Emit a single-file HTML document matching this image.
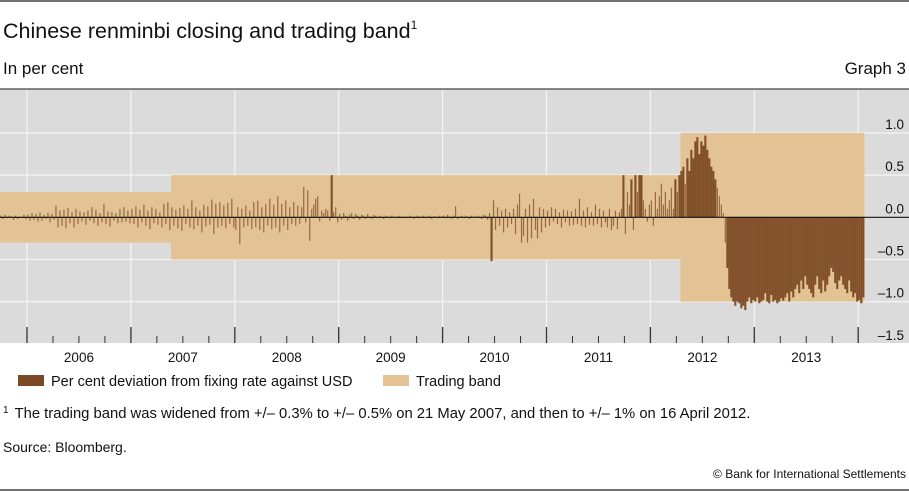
<!DOCTYPE html>
<html><head><meta charset="utf-8">
<style>
html,body{margin:0;padding:0;background:#fff;}
svg{display:block;}
</style></head>
<body>
<svg id="chart" width="909" height="492" xmlns="http://www.w3.org/2000/svg" font-family="'Liberation Sans', sans-serif">
  <line x1="0" y1="1" x2="909" y2="1" stroke="#444" stroke-width="1.5"/>
  <text x="3" y="38" font-size="21.5" fill="#111">Chinese renminbi closing and trading band<tspan font-size="12" dy="-9">1</tspan></text>
  <text x="3" y="74" font-size="17" fill="#111">In per cent</text>
  <text x="906" y="74" font-size="17" fill="#111" text-anchor="end">Graph 3</text>
  <rect x="0" y="89" width="909" height="254" fill="#dbdbdb"/>
  <line x1="0" y1="89" x2="909" y2="89" stroke="#444" stroke-width="1.2"/>
  <g id="grid"></g>
  <g id="bands"></g>
  <g id="bars"></g>
  <g id="axes"></g>
  <rect x="18" y="375" width="26" height="11" fill="#7b4a24"/>
  <text x="51" y="386" font-size="14.5" fill="#111">Per cent deviation from fixing rate against USD</text>
  <rect x="383" y="375" width="26" height="11" fill="#e3c294"/>
  <text x="416" y="386" font-size="14.5" fill="#111">Trading band</text>
  <text x="3" y="418" font-size="14.8" fill="#111"><tspan font-size="10" dy="-5">1</tspan><tspan dy="5" dx="6">The trading band was widened from +/– 0.3% to +/– 0.5% on 21 May 2007, and then to +/– 1% on 16 April 2012.</tspan></text>
  <text x="3" y="452" font-size="14" fill="#111">Source: Bloomberg.</text>
  <text x="906" y="478" font-size="12" fill="#111" text-anchor="end">© Bank for International Settlements</text>
  <line x1="0" y1="490" x2="909" y2="490" stroke="#444" stroke-width="1.5"/>
</svg>
<script>
const yTicks = [1.0, 0.5, 0.0, -0.5, -1.0, -1.5];
const yTickLabels = ["1.0", "0.5", "0.0", "–0.5", "–1.0", "–1.5"];
const years = [2006, 2007, 2008, 2009, 2010, 2011, 2012, 2013];
const bandStart = [2005.74, 2007.386, 2012.29];
const bandEnd = [2007.386, 2012.29, 2014.06];
const bandHalfWidth = [0.3, 0.5, 1.0];
const seriesStart = [2005.74, 2006, 2007, 2008, 2009, 2010, 2011, 2012, 2013, 2014];
const seriesEnd = [2006, 2007, 2008, 2009, 2010, 2011, 2012, 2013, 2014, 2014.06];
const v2005 = [0.02,-0.02,0.03,-0.01,0.02,0.01,-0.03,0.02,-0.02,0.01,-0.01,0.03,-0.02];
const v2006 = [0.03,-0.04,0.05,-0.03,0.04,-0.05,0.06,-0.04,0.03,-0.02,0.05,-0.06,0.04,-0.03,0.14,-0.12,0.08,-0.10,0.09,-0.13,0.11,-0.07,0.06,-0.12,0.10,-0.08,0.07,-0.05,0.06,-0.09,0.08,-0.04,0.12,-0.07,0.09,-0.10,0.05,-0.06,0.16,-0.08,0.07,-0.11,0.06,-0.04,0.05,-0.07,0.10,-0.06,0.12,-0.05,0.08,-0.07];
const v2007 = [0.10,-0.08,0.13,-0.12,0.09,-0.06,0.15,-0.10,0.08,-0.14,0.12,-0.07,0.10,-0.09,0.06,-0.12,0.16,-0.08,0.18,-0.15,0.12,-0.10,0.09,-0.13,0.11,-0.16,0.14,-0.08,0.10,-0.12,0.20,-0.14,0.12,-0.10,0.08,-0.18,0.15,-0.11,0.13,-0.09,0.21,-0.20,0.16,-0.12,0.18,-0.10,0.14,-0.13,0.17,-0.08,0.22,-0.12];
const v2008 = [-0.15,0.12,-0.32,0.10,-0.12,0.14,-0.10,0.08,-0.14,0.18,-0.12,0.20,-0.15,0.12,-0.18,0.16,-0.10,0.22,-0.14,0.15,-0.12,0.25,-0.18,0.16,-0.10,0.20,-0.15,0.12,-0.08,0.18,-0.10,0.14,-0.08,0.12,0.36,-0.06,0.32,-0.28,0.10,0.15,0.22,0.25,-0.05,0.08,0.05,0.10,0.08,-0.04,0.50,0.06,0.12,-0.06];
const v2009 = [0.04,-0.03,0.05,0.02,-0.04,0.03,0.05,-0.02,0.04,0.02,-0.03,0.03,0.02,-0.02,0.04,0.01,-0.02,0.03,0.02,-0.01,0.02,0.01,-0.02,0.02,0.01,-0.01,0.02,0.01,-0.01,0.01,0.02,-0.01,0.01,0.01,-0.01,0.02,0.01,-0.02,0.01,0.02,-0.01,0.01,0.02,-0.01,0.01,0.02,-0.02,0.01,0.01,-0.01,0.02,0.01];
const v2010 = [0.02,-0.01,0.03,0.01,-0.02,0.02,0.13,-0.02,0.01,0.02,-0.01,0.02,0.01,-0.02,0.02,0.01,-0.01,0.02,0.01,-0.02,0.03,0.02,-0.03,0.05,-0.52,0.20,-0.15,0.12,-0.10,0.08,-0.18,0.10,-0.12,0.06,-0.08,0.10,-0.20,0.15,0.28,-0.30,-0.22,0.10,-0.30,0.15,-0.25,0.22,-0.15,-0.25,0.12,-0.18,0.10,-0.12];
const v2011 = [0.08,-0.10,0.12,-0.05,0.10,-0.08,0.06,-0.12,0.09,-0.06,0.08,-0.10,0.07,-0.09,0.10,-0.08,0.22,-0.10,0.08,-0.12,0.12,-0.09,0.06,-0.10,0.15,-0.08,0.10,-0.12,0.08,-0.06,-0.12,0.10,-0.15,-0.10,0.08,-0.14,0.06,0.10,0.50,-0.20,0.30,0.15,0.45,-0.15,0.50,0.30,0.50,0.50,0.20,0.10,-0.05,0.15];
const v2012 = [0.20,-0.10,0.30,0.10,0.25,0.40,0.15,0.30,0.10,0.20,0.35,0.10,0.45,0.30,0.50,0.55,0.60,0.40,0.70,0.55,0.80,0.70,0.90,0.95,0.75,0.90,0.85,0.97,0.80,0.70,0.60,0.55,0.45,0.35,0.25,0.15,0.05,-0.30,-0.60,-0.85,-0.95,-1.00,-1.05,-1.00,-1.02,-1.08,-1.05,-1.10,-1.00,-0.95,-1.02,-0.98];
const v2013 = [-1.00,-0.95,-1.02,-1.00,-0.98,-0.90,-1.00,-1.02,-0.92,-1.00,-0.98,-1.02,-1.00,-0.96,-0.99,-0.95,-0.90,-1.00,-0.88,-0.95,-0.85,-0.80,-0.90,-0.75,-0.85,-0.70,-0.80,-0.85,-0.90,-0.95,-0.80,-0.70,-0.85,-0.90,-0.75,-0.88,-0.80,-0.70,-0.60,-0.65,-0.78,-0.85,-0.75,-0.70,-0.80,-0.85,-0.90,-0.75,-0.88,-0.95,-0.90,-1.00];
const v2014 = [-0.98,-1.02,-0.95];
const seriesChunks = [v2005, v2006, v2007, v2008, v2009, v2010, v2011, v2012, v2013, v2014];

const NS = "http://www.w3.org/2000/svg";
const X0 = 27, YEAR_W = 103.9, Y0 = 217.3, UNIT = 84.3;
function xScale(t) { return X0 + (t - 2006) * YEAR_W; }
function yScale(v) { return Y0 - v * UNIT; }
function mk(tag, attrs, parent) {
  const e = document.createElementNS(NS, tag);
  for (const k in attrs) e.setAttribute(k, attrs[k]);
  parent.appendChild(e);
  return e;
}
const grid = document.getElementById('grid');
const bands = document.getElementById('bands');
const bars = document.getElementById('bars');
const axes = document.getElementById('axes');

yTicks.forEach((v, i) => {
  if (i < yTicks.length - 1) {
    const l = mk('line', {x1: 0, x2: 909, y1: yScale(v), y2: yScale(v), stroke: '#f4f4f4', 'stroke-width': 1.2}, grid);
    
    
  }
});
for (let y = 2006; y <= 2014; y++) {
  const l = mk('line', {x1: xScale(y), x2: xScale(y), y1: 90, y2: 343, stroke: '#f4f4f4', 'stroke-width': 1.2}, grid);
  
  
}
bandStart.forEach((s, i) => {
  const r = mk('rect', {x: xScale(s), width: xScale(bandEnd[i]) - xScale(s), y: yScale(bandHalfWidth[i]), height: 2 * bandHalfWidth[i] * UNIT, fill: '#e3c294'}, bands);
  
  
});
seriesChunks.forEach((arr, c) => {
  const s = seriesStart[c], e = seriesEnd[c];
  const step = (e - s) / arr.length;
  arr.forEach((v, i) => {
    const x = xScale(s + (i + 0.5) * step);
    const y1 = yScale(Math.max(v, 0)), y2 = yScale(Math.min(v, 0));
    const big = Math.abs(v) > 0.4;
    const r = mk('rect', {x: x - (big ? 1.05 : 0.6), width: big ? 2.1 : 1.2, y: y1, height: Math.max(y2 - y1, 0.5), fill: big ? '#7b4a24' : '#8a5a32', opacity: big ? 0.95 : 0.85}, bars);
    
    
  });
});
const zl = mk('line', {x1: 0, x2: 909, y1: Y0, y2: Y0, stroke: '#111', 'stroke-width': 1.2}, axes);


yTicks.forEach((v, i) => {
  const t = mk('text', {x: 904, y: yScale(v) - 4, 'font-size': 13.5, fill: '#111', 'text-anchor': 'end'}, axes);
  t.textContent = yTickLabels[i];
  
  
});
for (let q = 0; q <= 32; q++) {
  const major = q % 4 === 0;
  const x = xScale(2006 + q / 4);
  const l = mk('line', {x1: x, x2: x, y1: major ? 327 : 336, y2: 343, stroke: '#333', 'stroke-width': major ? 1.3 : 1}, axes);
  
  
}
years.forEach(y => {
  const t = mk('text', {x: xScale(y + 0.5), y: 362, 'font-size': 13.5, fill: '#111', 'text-anchor': 'middle'}, axes);
  t.textContent = String(y);
  
  
});
</script>
</body></html>
